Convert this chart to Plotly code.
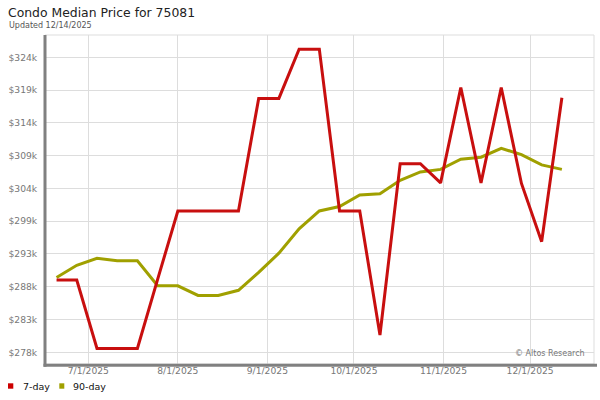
import plotly.graph_objects as go

dates = ["2025-06-20", "2025-06-27", "2025-07-04", "2025-07-11", "2025-07-18", "2025-07-25",
         "2025-08-01", "2025-08-08", "2025-08-15", "2025-08-22", "2025-08-29", "2025-09-05",
         "2025-09-12", "2025-09-19", "2025-09-26", "2025-10-03", "2025-10-10", "2025-10-17",
         "2025-10-24", "2025-10-31", "2025-11-07", "2025-11-14", "2025-11-21", "2025-11-28",
         "2025-12-05", "2025-12-12"]

price_7day = [289300, 289300, 278600, 278600, 278600, 289400,
              300100, 300100, 300100, 300100, 317700, 317700,
              325400, 325400, 300100, 300100, 280700, 307500,
              307500, 304500, 319400, 304500, 319400, 304400,
              295300, 317800]

price_90day = [289700, 291600, 292700, 292300, 292300, 288400,
               288400, 286900, 286900, 287700, 290500, 293500,
               297300, 300100, 300800, 302600, 302800, 304900,
               306200, 306600, 308200, 308500, 309900, 308900,
               307300, 306600]

y_tick_vals = [278000 + 5125 * i for i in range(10)]
y_tick_text = ["$278k", "$283k", "$288k", "$293k", "$299k", "$304k", "$309k", "$314k", "$319k", "$324k"]

x_tick_vals = ["2025-07-01", "2025-08-01", "2025-09-01", "2025-10-01", "2025-11-01", "2025-12-01"]
x_tick_text = ["7/1/2025", "8/1/2025", "9/1/2025", "10/1/2025", "11/1/2025", "12/1/2025"]

RED = "#c80f0f"
OLIVE = "#a0a000"
FONT = "DejaVu Sans"

fig = go.Figure()
fig.add_trace(go.Scatter(x=dates, y=price_90day, mode="lines", name="90-day",
                         line=dict(color=OLIVE, width=3), showlegend=False))
fig.add_trace(go.Scatter(x=dates, y=price_7day, mode="lines", name="7-day",
                         line=dict(color=RED, width=3), showlegend=False))

L, R, T, B = 45, 6, 35, 36
PW = 600 - L - R
PH = 400 - T - B


def px_x(px):
    return (px - L) / PW


def px_y(py):
    return (400 - B - py) / PH


shapes = [
    dict(type="rect", xref="paper", yref="paper", x0=0, x1=1, y0=0, y1=1,
         line=dict(color="#dddddd", width=1), layer="below"),
    dict(type="line", xref="paper", yref="paper", x0=px_x(43.5), x1=px_x(597), y0=px_y(365.3), y1=px_y(365.3),
         line=dict(color="#808080", width=3)),
    dict(type="line", xref="paper", yref="paper", x0=px_x(45), x1=px_x(45), y0=px_y(35), y1=px_y(366.8),
         line=dict(color="#808080", width=3)),
    dict(type="rect", xref="paper", yref="paper", x0=px_x(8), x1=px_x(13.3), y0=px_y(383.3), y1=px_y(388.7),
         fillcolor="#cc0000", line=dict(width=0)),
    dict(type="rect", xref="paper", yref="paper", x0=px_x(59.3), x1=px_x(64.3), y0=px_y(383.3), y1=px_y(388.7),
         fillcolor=OLIVE, line=dict(width=0)),
]

annotations = [
    dict(text="Condo Median Price for 75081", xref="paper", yref="paper", x=px_x(6), y=px_y(13),
         xanchor="left", yanchor="middle", showarrow=False, font=dict(family=FONT, size=12.4, color="#222222")),
    dict(text="Updated 12/14/2025", xref="paper", yref="paper", x=px_x(7), y=px_y(25),
         xanchor="left", yanchor="middle", showarrow=False, font=dict(family=FONT, size=8, color="#555555")),
    dict(text="7-day", xref="paper", yref="paper", x=px_x(20.5), y=px_y(386),
         xanchor="left", yanchor="middle", showarrow=False, font=dict(family=FONT, size=9.5, color="#111111")),
    dict(text="90-day", xref="paper", yref="paper", x=px_x(71), y=px_y(386),
         xanchor="left", yanchor="middle", showarrow=False, font=dict(family=FONT, size=9.5, color="#111111")),
    dict(text="© Altos Research", xref="paper", yref="paper", x=px_x(587), y=px_y(353),
         xanchor="right", yanchor="middle", showarrow=False, font=dict(family=FONT, size=8, color="#777777")),
]

fig.update_layout(
    width=600, height=400,
    margin=dict(l=L, r=R, t=T, b=B, pad=0, autoexpand=False),
    paper_bgcolor="white", plot_bgcolor="white",
    font=dict(family=FONT),
    showlegend=False,
    shapes=shapes,
    annotations=annotations,
    xaxis=dict(
        type="date", automargin=False,
        range=["2025-06-16 00:00", "2025-12-23 03:00"],
        tickvals=x_tick_vals, ticktext=x_tick_text,
        showgrid=True, gridcolor="#dddddd", gridwidth=1,
        zeroline=False, showline=False,
        ticks="", tickfont=dict(family=FONT, size=9.2, color="#777777"),
    ),
    yaxis=dict(
        automargin=False,
        range=[276171, 327613],
        tickvals=y_tick_vals, ticktext=y_tick_text,
        showgrid=True, gridcolor="#dddddd", gridwidth=1,
        zeroline=False, showline=False,
        ticks="outside", ticklen=5, tickcolor="rgba(0,0,0,0)",
        tickfont=dict(family=FONT, size=9.2, color="#777777"),
    ),
)

fig.write_html("out.html", config={"displayModeBar": False},
               post_script="document.body.style.margin='0';")
